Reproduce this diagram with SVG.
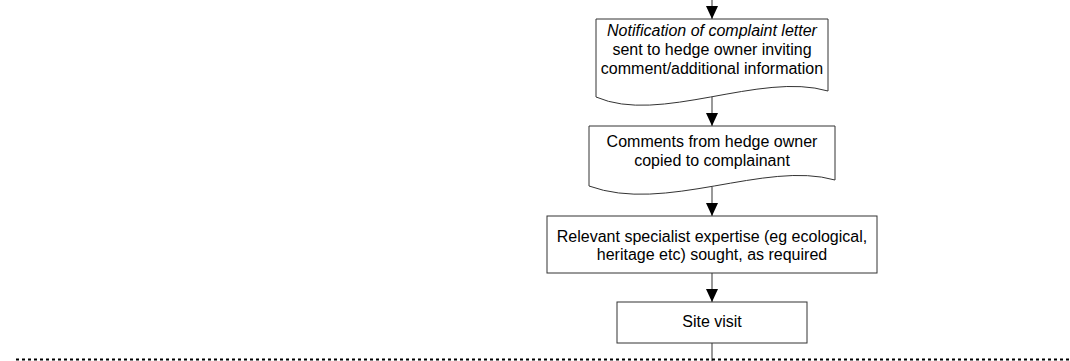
<svg xmlns="http://www.w3.org/2000/svg" width="1070" height="361" viewBox="0 0 1070 361">
<style>
.box{fill:#fff;stroke:#333;stroke-width:1}
.t{font-family:"Liberation Sans",Arial,sans-serif;font-size:16px;fill:#000;text-anchor:middle}
.it{font-style:italic}
.con{stroke:#555;stroke-width:1.2;fill:none}
.dash{stroke:#000;stroke-width:2;stroke-dasharray:3,3;fill:none}
</style>
<defs>
<marker id="ah" markerWidth="13" markerHeight="12" refX="13" refY="6" orient="auto" markerUnits="userSpaceOnUse" viewBox="0 0 13 12">
<path d="M0,0 L13,6 L0,12 Z" fill="#000"/>
</marker>
</defs>
<rect width="1070" height="361" fill="#fff"/>
<g id="connectors">
<line class="con" x1="712" y1="0" x2="712" y2="19" marker-end="url(#ah)"/>
<line class="con" x1="712" y1="97" x2="712" y2="126" marker-end="url(#ah)"/>
<line class="con" x1="712" y1="187" x2="712" y2="216" marker-end="url(#ah)"/>
<line class="con" x1="712" y1="273" x2="712" y2="302" marker-end="url(#ah)"/>
<line class="con" x1="712" y1="343" x2="712" y2="361"/>
</g>
<g id="notification">
<path class="box" d="M596,19 H828 V91 C760,71 660,125 596,97 Z"/>
<text class="t it" x="712" y="36">Notification of complaint letter</text>
<text class="t" x="712" y="55">sent to hedge owner inviting</text>
<text class="t" x="712" y="74">comment/additional information</text>
</g>
<g id="comments">
<path class="box" d="M589,126 H835 V180 C765,160 665,214 589,186 Z"/>
<text class="t" x="712" y="147">Comments from hedge owner</text>
<text class="t" x="712" y="166">copied to complainant</text>
</g>
<g id="specialist">
<rect class="box" x="547" y="216" width="330" height="57"/>
<text class="t" x="712" y="242">Relevant specialist expertise (eg ecological,</text>
<text class="t" x="712" y="260">heritage etc) sought, as required</text>
</g>
<g id="sitevisit">
<rect class="box" x="617" y="302" width="190" height="41"/>
<text class="t" x="712" y="327">Site visit</text>
</g>
<g id="boundary">
<line class="dash" x1="16" y1="359.5" x2="1070" y2="359.5"/>
</g>
</svg>
